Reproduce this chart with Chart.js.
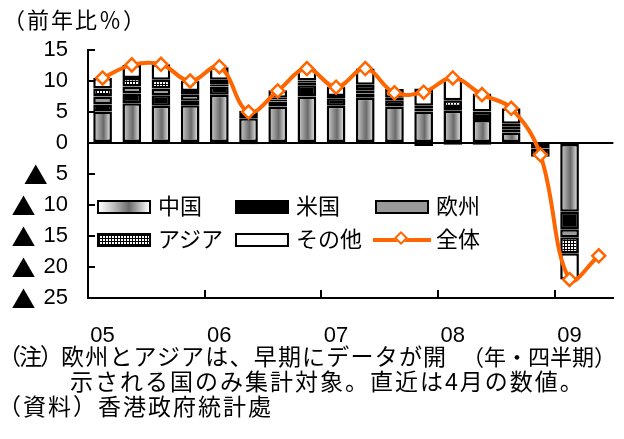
<!DOCTYPE html>
<html><head><meta charset="utf-8">
<script src="https://cdn.jsdelivr.net/npm/chart.js@4.4.1/dist/chart.umd.min.js"></script>
<style>
html,body{margin:0;padding:0;background:#fff;}
#wrap{position:relative;width:624px;height:439px;overflow:hidden;font-family:"Liberation Sans","Noto Sans CJK JP",sans-serif;color:#000;}
#c{position:absolute;left:0;top:0;}
.t{position:absolute;white-space:nowrap;line-height:1;}
.lg{position:absolute;font-size:22px;line-height:1;white-space:nowrap;}
.sw{position:absolute;box-sizing:border-box;border:2px solid #000;height:14px;width:54px;}
</style></head>
<body><div id="wrap">
<canvas id="c" width="624" height="439"></canvas>
<div class="t" style="left:3px;top:10px;font-size:22px;letter-spacing:2px;">（前年比％）</div>
<div class="t" style="right:8px;top:347px;font-size:22px;">（年・四半期）</div>
<div class="t" style="left:-2px;top:346px;font-size:23px;letter-spacing:1.2px;"><span style="letter-spacing:-2px;">（注）</span>欧州とアジアは、早期にデータが開</div>
<div class="t" style="left:70px;top:371px;font-size:23px;letter-spacing:2px;">示される国のみ集計対象。直近は4月の数値。</div>
<div class="t" style="left:-2px;top:396px;font-size:23px;letter-spacing:2px;">（資料）香港政府統計處</div>
<div id="legend"></div>
</div>
<script>
// ---- data (year-on-year %, by destination) ----
const quarters = ['05Q1','05Q2','05Q3','05Q4','06Q1','06Q2','06Q3','06Q4','07Q1','07Q2','07Q3','07Q4','08Q1','08Q2','08Q3','08Q4','09Q1','09Q2'];
const yearLabels = ['05','','','','06','','','','07','','','','08','','','','09',''];
const china = [5.1, 6.4, 6.0, 6.1, 7.8, 4.0, 5.9, 7.5, 6.0, 7.3, 5.9, 5.1, 5.2, 3.7, 1.7, -0.9, -11.1, null];
const usa   = [1.1, 1.6, 1.7, 0.7, 1.3, 0.5, 0.8, 1.8, 1.2, 0.7, 1.0, -0.5, -0.3, -0.3, 0.5, -1.3, -2.8, null];
const europe= [1.3, 1.1, 1.1, 1.0, 0.3, -0.2, 0.3, 0.4, 0.2, 0.5, 0.2, 0.5, 0.6, 0.5, 0.5, null, -1.3, null];
const asia  = [1.3, 1.4, 1.4, 0.6, 0.8, null, 0.3, 0.4, 0.2, 0.9, 0.2, 0.4, 1.1, 0.9, 0.4, null, -2.6, null];
const other = [1.7, 2.1, 2.5, 1.7, 2.0, 0.7, 1.2, 1.8, 1.5, 2.6, 1.4, 2.8, 3.6, 2.9, 2.5, null, -4.2, null];
const total = [10.5, 12.6, 12.7, 10.0, 12.3, 5.0, 8.4, 12.0, 9.0, 12.0, 8.1, 8.2, 10.5, 7.8, 5.6, -1.9, -22.0, -18.2];
const yTicks = [15, 10, 5, 0, -5, -10, -15, -20, -25];
const seriesNames = ['中国','米国','欧州','アジア','その他','全体'];

const ORANGE = '#FF6600';
const BAR_PCT = 0.64;
const TICK_FONT = {family:"'Liberation Sans','DejaVu Sans',sans-serif", size:22};

// grid pattern for Asia
const pc = document.createElement('canvas'); pc.width = 3; pc.height = 3;
const pctx = pc.getContext('2d');
pctx.fillStyle = '#fff'; pctx.fillRect(0,0,3,3);
pctx.fillStyle = '#000'; pctx.fillRect(0,0,3,1); pctx.fillRect(0,0,1,3);
const asiaPattern = pctx.createPattern(pc, 'repeat');

function chinaFill(ctx){
  const chart = ctx.chart, xs = chart.scales && chart.scales.x;
  if (!xs || ctx.dataIndex === undefined || !isFinite(xs.width) || xs.width <= 0) return '#999';
  const x = xs.getPixelForValue(ctx.dataIndex);
  const w = xs.width / quarters.length * BAR_PCT;
  const g = chart.ctx.createLinearGradient(x - w/2, 0, x + w/2, 0);
  g.addColorStop(0, '#d4d4d4');
  g.addColorStop(0.55, '#6a6a6a');
  g.addColorStop(1, '#ffffff');
  return g;
}

const barBase = {type:'bar', stack:'s', order:1, borderColor:'#000', borderWidth:2.5, borderSkipped:false,
  barPercentage:BAR_PCT, categoryPercentage:1};

const innerTicks = {
  id:'innerTicks',
  afterDraw(chart){
    const {ctx, chartArea:a, scales:{x, y}} = chart;
    ctx.save();
    ctx.strokeStyle = '#000'; ctx.lineWidth = 2;
    ctx.beginPath();
    yTicks.forEach(v => { const py = Math.round(y.getPixelForValue(v)); ctx.moveTo(a.left, py); ctx.lineTo(a.left + 7, py); });
    yearLabels.forEach((l, i) => {
      if (l && i > 0) {
        const px = Math.round((x.getPixelForValue(i - 1) + x.getPixelForValue(i)) / 2);
        ctx.moveTo(px, a.bottom); ctx.lineTo(px, a.bottom - 8);
      }
    });
    ctx.stroke();
    // ▲ marks for negative tick values (Japanese minus convention)
    ctx.fillStyle = '#000';
    ctx.textBaseline = 'middle';
    ctx.textAlign = 'right';
    yTicks.forEach(v => {
      if (v < 0) {
        ctx.font = TICK_FONT.size + 'px ' + TICK_FONT.family;
        const w = ctx.measureText(String(-v)).width;
        ctx.font = "24px 'Noto Sans CJK JP'";
        ctx.fillText('▲', y.right - 20 - w - 8, y.getPixelForValue(v) + 1);
      }
    });
    ctx.restore();
  }
};

new Chart(document.getElementById('c'), {
  data: {
    labels: quarters,
    datasets: [
      Object.assign({label:seriesNames[0], data:china, backgroundColor:chinaFill}, barBase),
      Object.assign({label:seriesNames[1], data:usa, backgroundColor:'#000'}, barBase),
      Object.assign({label:seriesNames[2], data:europe, backgroundColor:'#999'}, barBase),
      Object.assign({label:seriesNames[3], data:asia, backgroundColor:asiaPattern}, barBase),
      Object.assign({label:seriesNames[4], data:other, backgroundColor:'#fff'}, barBase),
      {type:'line', label:seriesNames[5], data:total, stack:'line', order:0,
       borderColor:ORANGE, borderWidth:4, tension:0.38,
       pointStyle:'rectRot', pointRadius:6.5, pointBackgroundColor:'#fff',
       pointBorderColor:ORANGE, pointBorderWidth:2.5}
    ]
  },
  options: {
    responsive:false, animation:false, devicePixelRatio:1,
    layout:{padding:{left:0, right:9, top:50, bottom:81}},
    plugins:{legend:{display:false}, tooltip:{enabled:false}, title:{display:false}},
    scales:{
      x:{
        type:'category', offset:true, stacked:true,
        grid:{display:true, drawOnChartArea:false, drawTicks:false, color:'rgba(0,0,0,0)'},
        border:{display:true, color:'#000', width:2},
        ticks:{autoSkip:false, maxRotation:0, padding:25, color:'#000', font:TICK_FONT,
               callback:(v, i) => yearLabels[i]},
        afterFit:(s) => { s.height = 60; }
      },
      y:{
        stacked:true, min:-25, max:15,
        grid:{display:true, drawTicks:false, color:(c) => (c.tick && c.tick.value === 0) ? '#000' : 'rgba(0,0,0,0)', lineWidth:2},
        border:{display:true, color:'#000', width:2},
        ticks:{stepSize:5, padding:20, color:'#000', font:TICK_FONT,
               callback:(v) => String(Math.abs(v))},
        afterFit:(s) => { s.width = 88; }
      }
    }
  },
  plugins:[innerTicks]
});

// ---- legend (HTML) ----
const lg = document.getElementById('legend');
const legendItems = [
  {name:seriesNames[0], bx:97,  ty:200, style:'background:linear-gradient(to right,#ffffff 0%,#bdbdbd 30%,#6a6a6a 60%,#ffffff 100%);'},
  {name:seriesNames[1], bx:235, ty:200, style:'background:#000;'},
  {name:seriesNames[2], bx:375, ty:200, style:'background:#999;'},
  {name:seriesNames[3], bx:97,  ty:233, style:'background-color:#fff;background-image:linear-gradient(#000 1px,transparent 1px),linear-gradient(90deg,#000 1px,transparent 1px);background-size:3px 3px;'},
  {name:seriesNames[4], bx:235, ty:233, style:'background:#fff;'},
];
legendItems.forEach(it => {
  const s = document.createElement('div'); s.className = 'sw';
  s.style.cssText = 'left:' + it.bx + 'px;top:' + it.ty + 'px;' + it.style;
  lg.appendChild(s);
  const t = document.createElement('div'); t.className = 'lg';
  t.style.left = (it.bx + 61) + 'px'; t.style.top = (it.ty - 4) + 'px';
  t.textContent = it.name; lg.appendChild(t);
});
// line legend
const ln = document.createElement('div');
ln.style.cssText = 'position:absolute;left:373px;top:238px;width:58px;height:4px;background:' + ORANGE + ';';
lg.appendChild(ln);
const dm = document.createElement('div');
dm.style.cssText = 'position:absolute;left:396px;top:233px;width:10px;height:10px;box-sizing:border-box;border:2.5px solid ' + ORANGE + ';background:#fff;transform:rotate(45deg);';
lg.appendChild(dm);
const lt = document.createElement('div'); lt.className = 'lg';
lt.style.left = '436px'; lt.style.top = '229px'; lt.textContent = seriesNames[5];
lg.appendChild(lt);
</script>
</body></html>
